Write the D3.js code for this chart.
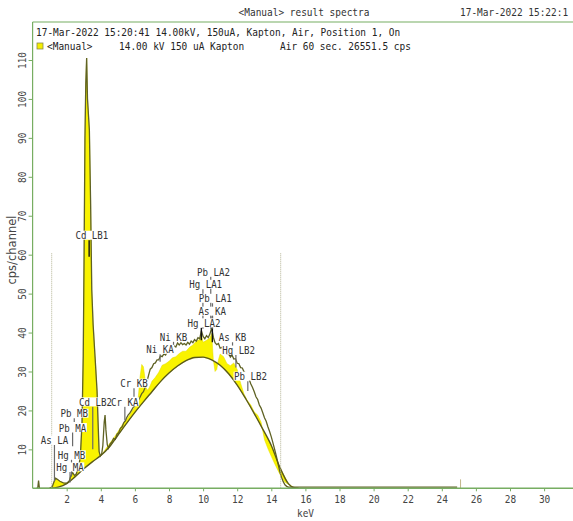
<!DOCTYPE html>
<html><head><meta charset="utf-8">
<script src="https://cdn.jsdelivr.net/npm/d3@7"></script>
<style>body{margin:0;background:#fff}svg{display:block}</style>
</head><body>
<svg id="c" width="573" height="521"></svg>
<script>
// ---------------- data ----------------
const xTicks = [2,4,6,8,10,12,14,16,18,20,22,24,26,28,30];
const yTicks = [10,20,30,40,50,60,70,80,90,100,110];

// fitted background continuum
const bgE = [1.0,1.5,2.0,2.5,3.0,3.5,4.0,4.5,5.0,5.5,6.0,6.5,7.0,7.5,8.0,8.5,9.0,9.5,10.0,10.5,11.0,11.5,12.0,12.5,13.0,13.5,14.0,14.5,15.0,15.3,15.6];
const bgV = [0,0.3,1.2,3.0,5.0,6.8,8.4,10.6,13.6,16.6,19.5,22.2,24.8,27.4,29.6,31.4,32.8,33.6,33.7,33.0,31.6,29.4,26.5,23.0,19.2,15.2,11.0,5.4,1.2,0.2,0];

// yellow (filled) spectrum
const yelE = [1.0,1.15,1.25,1.35,1.45,1.6,1.8,2.0,2.15,2.25,2.35,2.45,2.55,2.65,2.75,2.8,2.9,2.97,3.02,3.07,3.12,3.17,3.22,3.33,3.4,3.47,3.55,3.66,3.78,3.84,3.9,3.97,4.1,4.3,4.5,4.8,5.0,5.3,5.6,5.9,6.1,6.2,6.3,6.4,6.5,6.6,6.7,6.8,6.9,7.0,7.2,7.4,7.6,7.8,8.0,8.2,8.4,8.6,8.8,9.0,9.2,9.4,9.6,9.8,9.9,10.0,10.2,10.4,10.5,10.6,10.7,10.8,10.9,11.0,11.2,11.4,11.6,11.8,12.0,12.2,12.4,12.6,12.8,13.0,13.2,13.4,13.6,13.8,14.0,14.2,14.4,14.6,14.8,15.0,15.3,15.6];
const yelV = [0,0.4,1.6,2.6,2.3,1.8,1.4,1.3,1.9,3.3,4.0,3.3,3.6,4.8,6.8,8,17,34,60,90,104,110.5,100,92,74,51,42,34,25,17,9.5,8.3,8.9,10.2,11.4,13.2,14.5,16.6,18.2,20.3,21.8,23.5,28.5,31.8,31.2,28,25.2,25.5,26.4,27.5,28.5,29.8,31.6,32.0,32.6,33.5,33.8,34.6,35.2,35.2,36.2,36.8,37.8,38.2,39.5,37.5,38,38.6,39.8,33,30,30.5,33,34.5,33.8,32,31.5,32.2,30.5,27,24.2,22.5,21.4,19.6,18.8,17,12.5,10.2,8.2,6.3,4.5,2.8,1.6,1.0,0.2,0];

// measured spectrum (dark line)
const specLowE = [0.2,0.3,0.35,0.4,1.0,1.15,1.25,1.35,1.45,1.6,1.8,2.0,2.15,2.25,2.35,2.45,2.55,2.65,2.75,2.8,2.9,2.97,3.02,3.07,3.12,3.17,3.22,3.33,3.4,3.47,3.55,3.66,3.78,3.84,3.9,3.97,4.05,4.12,4.2,4.25,4.3,4.38,4.45,4.55,4.65,4.75,4.85,4.95,5.05,5.15,5.25,5.35,5.45];
const specLowV = [0,0,2.0,0,0,0.4,1.6,2.6,2.3,1.8,1.4,1.3,1.9,3.3,4.0,3.3,3.6,4.8,6.8,8,17,34,60,90,104,110.5,100,92,74,51,42,34,25,17,9.5,8.3,8.8,11,17,18.8,15,11.2,10.3,11.4,11.9,12.8,12.6,13.9,14.3,15.4,15.8,16.9,17.4];
const specMidE = d3.range(55,151).map(i => i/10);   // 5.5 ... 15.0 keV
const specMidV = [18.0,18.8,19.3,20.0,20.8,21.2,22.0,22.6,23.4,24.3,
  24.8,25.9,27.3,29.0,30.6,31.0,32.0,32.2,33.0,33.0,
  34.0,33.8,34.5,34.2,35.1,35.0,35.8,35.6,36.6,36.3,
  37.3,36.8,37.4,36.9,37.2,36.8,37.5,37.0,37.8,37.4,
  38.2,37.8,38.7,38.4,40.5,39.0,38.4,39.2,38.7,39.6,
  41.2,38.8,37.4,36.9,37.2,36.0,36.2,35.2,35.4,34.5,
  34.6,33.7,34.2,33.2,33.3,32.1,32.0,31.0,30.9,29.9,
  29.6,28.9,28.0,26.8,25.9,24.8,23.5,22.8,21.4,20.6,
  19.4,18.1,17.2,15.8,14.6,13.2,11.6,9.9,8.2,6.2,
  4.3,2.8,1.7,0.9,0.5,0.3];
const specHighE = [15.5,20.0,24.9];
const specHighV = [0.3,0.3,0.3];

// small peak at 25.1 keV
const sumPeakE = [25.1];
const sumPeakV = [2.3];

// region-of-interest markers (keV) and their height (cps)
const roiE = [1.12, 14.55];
const roiTop = 60.4;

// element line labels
const peakLabels = ["As LA","Hg MB","Hg MA","Pb MB","Pb MA","Cd LB2","Cd LB1","Cr KA","Cr KB","Ni KA","Ni KB","Hg LA2","As KA","Pb LA1","Hg LA1","Pb LA2","As KB","Hg LB2","Pb LB2"];
const peakE = [1.282,2.282,2.195,2.443,2.346,3.528,3.316,5.411,5.947,7.478,8.265,9.897,10.543,10.551,9.989,10.449,11.726,11.924,12.623];
const peakLevel = [12.4,8.6,5.5,19.3,15.6,22.2,65,22.2,27,35.7,38.9,42.5,45.5,48.8,52.4,55.6,38.8,35.5,28.8];
const peakEnd = [1.8,3.0,1.5,17.0,10.8,10,59.5,17.5,23.5,32.5,36.5,38,37.5,41,41,41,35.5,31,25];
const peakStrong = ["Cd LB1","As KA","Hg LA2"];

// header texts
const titleText = "<Manual> result spectra";
const dateText = "17-Mar-2022 15:22:1";
const infoLine = "17-Mar-2022 15:20:41 14.00kV, 150uA, Kapton, Air, Position 1, On";
const legendName = "<Manual>";
const legendCond = "14.00 kV  150 uA Kapton";
const legendAcq = "Air 60 sec.  26551.5 cps";
const xTitle = "keV";
const yTitle = "cps/channel";

// ---------------- drawing ----------------
const svg = d3.select("#c");
const W = 573, H = 521;
const left = 32.6, bottom = 488.3, frameTop = 22;
const x = d3.scaleLinear().domain([0, 40]).range([left, left + 40*17.05]);
const y = d3.scaleLinear().domain([0, 110]).range([bottom, 60]);

const MONO = "'DejaVu Sans Mono', 'Liberation Mono', monospace";
const FS = 11, SX = 0.86, SXL = 0.83;
const CWL = FS*0.602*SXL;
const green = "#77ad62";

function mtext(g, str, tx, ty, anchor, color, sx) {
  return g.append("text")
    .attr("transform", `translate(${tx},${ty}) scale(${sx || SX},1)`)
    .attr("font-family", MONO).attr("font-size", FS)
    .attr("text-anchor", anchor || "start")
    .attr("fill", color || "#222")
    .text(str);
}

svg.append("defs").append("clipPath").attr("id","plot")
  .append("rect").attr("x", left).attr("y", frameTop).attr("width", W-left).attr("height", bottom-frameTop);
const plot = svg.append("g").attr("clip-path","url(#plot)");

// yellow area between yellow spectrum and background
const bgInterp = e => {
  if (e <= bgE[0]) return bgV[0];
  if (e >= bgE[bgE.length-1]) return bgV[bgV.length-1];
  const i = d3.bisectRight(bgE, e) - 1;
  const t = (e - bgE[i]) / (bgE[i+1]-bgE[i]);
  return bgV[i] + t*(bgV[i+1]-bgV[i]);
};
const yelData = yelE.map((e,i) => ({e, v: yelV[i], b: bgInterp(e)}));
plot.append("path").datum(yelData)
  .attr("d", d3.area().x(d => x(d.e)).y0(d => y(d.b)).y1(d => y(d.v)))
  .attr("fill", "#f9f300").attr("stroke", "#e2dc00").attr("stroke-width", 0.5);

// measured spectrum line
const specE = specLowE.concat(specMidE, specHighE);
const specV = specLowV.concat(specMidV, specHighV);
plot.append("path").datum(specE.map((e,i)=>[e, specV[i]]))
  .attr("d", d3.line().x(d => x(d[0])).y(d => y(d[1])))
  .attr("fill","none").attr("stroke","#5f6224").attr("stroke-width",1.3);

// background curve
plot.append("path").datum(bgE.map((e,i)=>[e,bgV[i]]))
  .attr("d", d3.line().x(d => x(d[0])).y(d => y(d[1])).curve(d3.curveMonotoneX))
  .attr("fill","none").attr("stroke","#5a5a1c").attr("stroke-width",1.4);

// small peak at 25 keV
plot.selectAll(".sp").data(sumPeakE).enter().append("line")
  .attr("x1", d => x(d)).attr("x2", d => x(d))
  .attr("y1", y(0)).attr("y2", (d,i) => y(sumPeakV[i]))
  .attr("stroke","#c2b68a").attr("stroke-width",1);

// ROI dotted lines
plot.selectAll(".roi").data(roiE).enter().append("line")
  .attr("x1", d => x(d)).attr("x2", d => x(d))
  .attr("y1", y(0)).attr("y2", y(roiTop))
  .attr("stroke","#b4b494").attr("stroke-width",1).attr("stroke-dasharray","1,1");

// peak marker lines
const lab = plot.append("g");
peakLabels.forEach((t,i) => {
  const strong = peakStrong.includes(t);
  lab.append("line")
    .attr("x1", x(peakE[i])).attr("x2", x(peakE[i]))
    .attr("y1", y(peakLevel[i]) + 5).attr("y2", y(peakEnd[i]))
    .attr("stroke", strong ? "#111" : "#6a6a6a")
    .attr("stroke-width", strong ? 1.4 : 1.2);
});
// white boxes first, then texts
peakLabels.forEach((t,i) => {
  const x0 = x(peakE[i]) - 2.5*CWL;
  const yc = y(peakLevel[i]);
  lab.append("rect").attr("x", x0-0.5).attr("y", yc-4.5)
    .attr("width", t.length*CWL+1).attr("height", 9).attr("fill","#fff");
});
peakLabels.forEach((t,i) => {
  const x0 = x(peakE[i]) - 2.5*CWL;
  const yc = y(peakLevel[i]);
  mtext(lab, t, x0, yc+4, "start", "#333", SXL);
});

// frame
svg.append("line").attr("x1",left).attr("x2",W).attr("y1",frameTop).attr("y2",frameTop).attr("stroke",green).attr("stroke-width",1.2);
svg.append("line").attr("x1",left).attr("x2",left).attr("y1",frameTop).attr("y2",bottom).attr("stroke",green).attr("stroke-width",1.2);
svg.append("line").attr("x1",left).attr("x2",W).attr("y1",bottom).attr("y2",bottom).attr("stroke",green).attr("stroke-width",1.4);

// x axis
const gx = svg.append("g").attr("transform",`translate(0,${bottom})`)
  .call(d3.axisBottom(x).tickValues(xTicks).tickSize(3).tickPadding(4).tickSizeOuter(0).tickFormat(d3.format("d")));
gx.select(".domain").remove();
gx.selectAll("line").attr("stroke",green);
gx.selectAll("text").attr("font-family",MONO).attr("font-size",FS).attr("fill","#444")
  .attr("transform",`scale(${SX},1)`);

// y axis
const gy = svg.append("g").attr("transform",`translate(${left},0)`)
  .call(d3.axisLeft(y).tickValues(yTicks).tickSize(4).tickSizeOuter(0).tickFormat(d3.format("d")));
gy.select(".domain").remove();
gy.selectAll("line").attr("stroke",green);
gy.selectAll("text").attr("x",null).attr("dy",null)
  .attr("text-anchor","middle")
  .attr("font-family",MONO).attr("font-size",FS).attr("fill","#444")
  .attr("transform",`translate(-6.6,0) rotate(-90) scale(${SX},1)`);

// axis titles
mtext(svg, xTitle, 305.5, 517, "middle", "#444");
svg.append("text").attr("transform","translate(16,250) rotate(-90)")
  .attr("text-anchor","middle").attr("font-family","'DejaVu Sans', sans-serif")
  .attr("font-size",11.5).attr("fill","#444").text(yTitle);

// header
mtext(svg, titleText, 304, 16, "middle", "#333");
mtext(svg, dateText, 460, 16, "start", "#333");
mtext(svg, infoLine, 36, 36, "start", "#222");
svg.append("rect").attr("x",37).attr("y",43).attr("width",6).attr("height",6)
  .attr("fill","#f4ee00").attr("stroke","#8a8a50").attr("stroke-width",0.8);
mtext(svg, legendName, 47, 50, "start", "#222");
mtext(svg, legendCond, 119, 50, "start", "#222");
mtext(svg, legendAcq, 280, 50, "start", "#222");
</script>
</body></html>
